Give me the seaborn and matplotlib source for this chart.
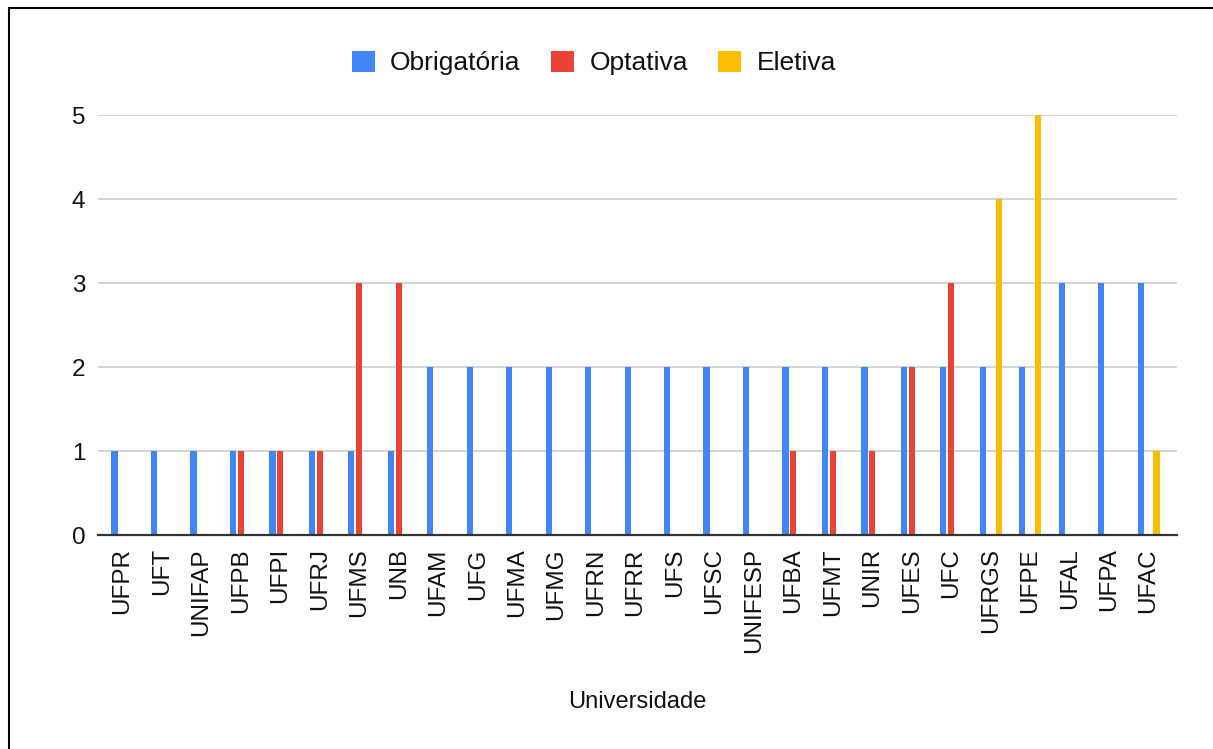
import matplotlib
matplotlib.use("Agg")
import matplotlib.pyplot as plt
from matplotlib.lines import Line2D
from matplotlib.patches import Patch
import seaborn as sns
import pandas as pd

universidades = ["UFPR", "UFT", "UNIFAP", "UFPB", "UFPI", "UFRJ", "UFMS", "UNB",
                 "UFAM", "UFG", "UFMA", "UFMG", "UFRN", "UFRR", "UFS", "UFSC",
                 "UNIFESP", "UFBA", "UFMT", "UNIR", "UFES", "UFC", "UFRGS", "UFPE",
                 "UFAL", "UFPA", "UFAC"]
obrigatoria = [1, 1, 1, 1, 1, 1, 1, 1, 2, 2, 2, 2, 2, 2, 2, 2, 2, 2, 2, 2, 2, 2, 2, 2, 3, 3, 3]
optativa    = [0, 0, 0, 1, 1, 1, 3, 3, 0, 0, 0, 0, 0, 0, 0, 0, 0, 1, 1, 1, 2, 3, 0, 0, 0, 0, 0]
eletiva     = [0, 0, 0, 0, 0, 0, 0, 0, 0, 0, 0, 0, 0, 0, 0, 0, 0, 0, 0, 0, 0, 0, 4, 5, 0, 0, 1]
series_names = ["Obrigatória", "Optativa", "Eletiva"]
colors = ["#4285F4", "#EA4335", "#FBBC04"]

rows = []
for i, u in enumerate(universidades):
    for name, vals in zip(series_names, [obrigatoria, optativa, eletiva]):
        rows.append({"Universidade": u, "Tipo": name, "Valor": vals[i]})
df = pd.DataFrame(rows)

sns.set_theme(style="white")
plt.rcParams["font.family"] = ["Liberation Sans", "DejaVu Sans"]

W, H = 1213, 749
fig = plt.figure(figsize=(W / 100, H / 100), dpi=100)
ax = fig.add_axes([98 / W, 1 - 535 / H, (1177 - 98) / W, (535 - 115) / H])

sns.barplot(data=df, x="Universidade", y="Valor", hue="Tipo", order=universidades,
            hue_order=series_names, palette=colors, width=0.6, gap=0.22,
            saturation=1, errorbar=None, legend=False, ax=ax)
for p in ax.patches:
    p.set_edgecolor("none")

ax.set_ylim(0, 5)
ax.set_xlim(-0.62, 26.72)
ax.set_yticks([0, 1, 2, 3, 4, 5])
ax.yaxis.grid(True, color="#cccccc", linewidth=1.2)
ax.set_axisbelow(True)
for s in ["top", "right", "left"]:
    ax.spines[s].set_visible(False)
ax.spines["bottom"].set_color("#333333")
ax.spines["bottom"].set_linewidth(1.6)
ax.spines["bottom"].set_zorder(5)

ax.tick_params(axis="y", length=0, pad=9.0, labelsize=17.5, labelcolor="#111111")
ax.tick_params(axis="x", length=0, pad=9.5, labelsize=17.5, labelcolor="#111111")
plt.setp(ax.get_xticklabels(), rotation=90)
ax.set_ylabel("")
ax.set_xlabel("Universidade", fontsize=17, color="#111111")
ax.xaxis.set_label_coords(0.5, (535 - 702) / 420)
ax.xaxis.label.set_va("center")

handles = [Patch(facecolor=c, edgecolor="none") for c in colors]
fig.legend(handles, series_names, loc="center", bbox_to_anchor=(594 / W, 1 - 63 / H),
           ncol=3, frameon=False, fontsize=19, handlelength=0.87, handleheight=0.87,
           handletextpad=0.57, columnspacing=1.16, labelcolor="#111111")

fig.add_artist(Line2D([8.5 / W, 8.5 / W], [0, 1 - 7.5 / H], transform=fig.transFigure,
                      color="black", linewidth=1.5))
fig.add_artist(Line2D([8.5 / W, 1], [1 - 7.5 / H, 1 - 7.5 / H], transform=fig.transFigure,
                      color="black", linewidth=1.5))

fig.savefig("out.png", dpi=100)
